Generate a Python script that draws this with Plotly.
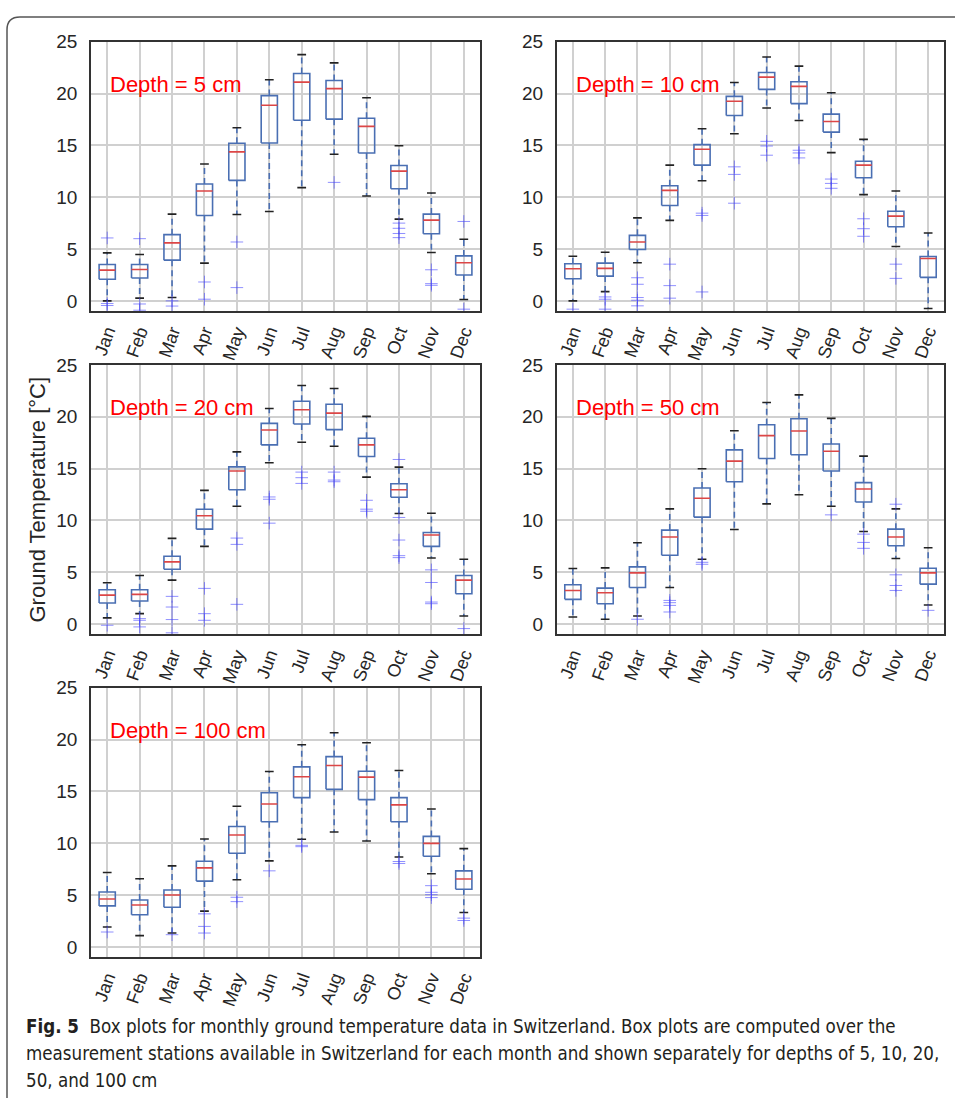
import plotly.graph_objects as go

MONTHS = ["Jan", "Feb", "Mar", "Apr", "May", "Jun", "Jul", "Aug", "Sep", "Oct", "Nov", "Dec"]
Y_TICKS = [0, 5, 10, 15, 20, 25]

# ---- Depth 5 cm ----
D5_LO = [0.0, 0.26, 0.32, 3.64, 8.33, 8.62, 10.92, 14.14, 10.12, 7.89, 4.66, 0.13]
D5_Q1 = [2.08, 2.2, 3.93, 8.24, 11.62, 15.23, 17.43, 17.53, 14.27, 10.82, 6.48, 2.49]
D5_MED = [2.97, 3.03, 5.59, 10.6, 14.37, 18.87, 21.1, 20.47, 16.83, 12.52, 7.79, 3.67]
D5_Q3 = [3.51, 3.51, 6.39, 11.27, 15.2, 19.8, 21.93, 21.26, 17.62, 13.06, 8.37, 4.34]
D5_HI = [4.63, 4.47, 8.37, 13.2, 16.7, 21.33, 23.75, 22.96, 19.6, 14.97, 10.41, 5.94]
D5_OUT = [[6.07, -0.26, -0.45], [6.0, -0.3, -0.9], [0.0, -0.5], [1.82, 0.16], [5.68, 1.28], [], [],
          [11.43], [], [7.5, 7.0, 6.5, 6.1], [3.0, 1.66, 1.5], [7.66, -0.8]]

# ---- Depth 10 cm ----
D10_LO = [0.0, 0.89, 3.67, 7.76, 11.59, 16.12, 18.61, 17.4, 14.3, 10.25, 5.24, -0.73]
D10_Q1 = [2.14, 2.39, 4.95, 9.2, 13.09, 17.88, 20.4, 19.03, 16.28, 11.88, 7.15, 2.27]
D10_MED = [3.1, 3.13, 5.68, 10.66, 14.62, 19.25, 21.58, 20.69, 17.31, 13.09, 8.17, 4.09]
D10_Q3 = [3.58, 3.64, 6.32, 11.11, 15.07, 19.73, 22.03, 21.14, 18.01, 13.47, 8.65, 4.28]
D10_HI = [4.31, 4.69, 8.01, 13.09, 16.6, 21.07, 23.53, 22.64, 20.08, 15.58, 10.6, 6.55]
D10_OUT = [[-0.8], [0.38, 0.16, -0.8], [2.23, 1.6, 0.32, 0.06, -0.48], [3.54, 1.47, 0.26],
           [8.46, 8.24, 0.86], [12.93, 12.2, 9.42], [15.39, 14.94, 14.05], [14.53, 14.27, 13.79],
           [11.75, 11.33, 10.86], [7.92, 6.96, 6.23], [3.54, 2.17], []]

# ---- Depth 20 cm ----
D20_LO = [0.58, 0.99, 4.23, 7.49, 11.36, 15.56, 17.54, 17.16, 14.18, 10.66, 6.37, 0.77]
D20_Q1 = [2.02, 2.21, 5.28, 9.15, 12.96, 17.29, 19.3, 18.76, 16.17, 12.23, 7.49, 2.91]
D20_MED = [2.78, 2.85, 5.99, 10.44, 14.76, 18.73, 20.68, 20.36, 17.29, 12.96, 8.58, 4.23]
D20_Q3 = [3.3, 3.3, 6.53, 11.08, 15.17, 19.37, 21.51, 21.22, 17.93, 13.54, 8.83, 4.67]
D20_HI = [3.97, 4.67, 8.26, 12.9, 16.61, 20.81, 23.02, 22.73, 20.04, 15.14, 10.69, 6.24]
D20_OUT = [[-0.13], [0.51, 0.35, -0.29], [2.66, 1.63, 0.42, -0.86], [3.43, 0.99, 0.35],
           [8.29, 7.68, 1.89], [12.26, 12.04, 9.73], [14.66, 14.12, 13.57], [14.66, 13.89, 13.73],
           [11.94, 11.08, 10.88], [15.88, 10.28, 8.1, 6.59, 6.4], [5.22, 4.0, 2.11, 1.95], [-0.45]]

# ---- Depth 50 cm ----
D50_LO = [0.67, 0.45, 0.77, 3.52, 6.24, 9.12, 11.59, 12.48, 11.36, 8.93, 6.31, 1.82]
D50_Q1 = [2.37, 1.95, 3.52, 6.63, 10.31, 13.73, 15.97, 16.33, 14.76, 11.78, 7.55, 3.84]
D50_MED = [3.23, 3.01, 4.93, 8.39, 12.13, 15.72, 18.18, 18.63, 16.68, 13.03, 8.39, 4.93]
D50_Q3 = [3.78, 3.46, 5.51, 9.06, 13.12, 16.81, 19.24, 19.81, 17.38, 13.64, 9.15, 5.38]
D50_HI = [5.35, 5.41, 7.84, 11.11, 14.98, 18.66, 21.38, 22.12, 19.85, 16.2, 11.11, 7.36]
D50_OUT = [[], [], [0.45], [2.27, 2.05, 1.79, 1.15], [5.95, 5.76], [], [], [], [10.53],
           [8.67, 7.87, 7.3], [11.56, 4.74, 3.71, 3.23], [1.31]]

# ---- Depth 100 cm ----
D100_LO = [1.92, 1.09, 1.34, 3.45, 6.48, 8.3, 10.38, 11.08, 10.22, 8.68, 7.06, 3.32]
D100_Q1 = [3.96, 3.1, 3.83, 6.35, 9.04, 12.07, 14.4, 15.2, 14.21, 12.07, 8.75, 5.56]
D100_MED = [4.63, 4.05, 5.01, 7.63, 10.79, 13.79, 16.41, 17.5, 16.38, 13.7, 9.99, 6.55]
D100_Q3 = [5.3, 4.53, 5.49, 8.27, 11.62, 14.88, 17.37, 18.36, 16.95, 14.4, 10.66, 7.34]
D100_HI = [7.18, 6.58, 7.82, 10.41, 13.57, 16.92, 19.51, 20.66, 19.7, 17.02, 13.31, 9.48]
D100_OUT = [[1.44], [], [1.18], [3.19, 1.98, 1.34], [4.79, 4.37], [7.34], [9.8, 9.67], [], [],
            [8.24, 8.05], [5.91, 5.27, 5.04, 4.76], [2.78, 2.55]]

DEPTH_TEXT = ["Depth = 5 cm", "Depth = 10 cm", "Depth = 20 cm", "Depth = 50 cm", "Depth = 100 cm"]
Y_TITLE = "Ground Temperature [°C]"
CAPTION = [
    "<b>Fig. 5</b>  Box plots for monthly ground temperature data in Switzerland. Box plots are computed over the",
    "measurement stations available in Switzerland for each month and shown separately for depths of 5, 10, 20,",
    "50, and 100 cm",
]

DATA = [
    (D5_LO, D5_Q1, D5_MED, D5_Q3, D5_HI, D5_OUT),
    (D10_LO, D10_Q1, D10_MED, D10_Q3, D10_HI, D10_OUT),
    (D20_LO, D20_Q1, D20_MED, D20_Q3, D20_HI, D20_OUT),
    (D50_LO, D50_Q1, D50_MED, D50_Q3, D50_HI, D50_OUT),
    (D100_LO, D100_Q1, D100_MED, D100_Q3, D100_HI, D100_OUT),
]

# ---------------- layout geometry (pixels) ----------------
W, H = 955, 1098
COLS = [(91, 480), (556.7, 944.3)]
ROWS = [(32, 304), (358.3, 630), (684, 956)]
PANEL_POS = [(0, 0), (1, 0), (0, 1), (1, 1), (0, 2)]

BLUE = "#4a6fb3"
RED = "#dc4646"
CAP = "#222222"
OUT = "rgba(70,70,255,0.6)"
GRID = "#d0d0d0"
FONT = "Liberation Sans, Arial, sans-serif"

BOX_HW = 0.25
CAP_HW = 0.135

fig = go.Figure()
layout = dict(
    width=W, height=H, margin=dict(l=0, r=0, t=0, b=0),
    paper_bgcolor="white", plot_bgcolor="white", showlegend=False,
    font=dict(family=FONT, size=19, color="#262626"),
)
annotations = []
shapes = []

for k, (col, row) in enumerate(PANEL_POS):
    idx = k + 1
    xa = "x" if idx == 1 else f"x{idx}"
    ya = "y" if idx == 1 else f"y{idx}"
    lo, q1, med, q3, hi, outs = DATA[k]
    xs = list(range(1, len(MONTHS) + 1))

    wx, wy = [], []
    bx, by = [], []
    cx, cy = [], []
    mx, my = [], []
    ox, oy = [], []
    for i, m in enumerate(xs):
        wx += [m, m, None, m, m, None]
        wy += [q3[i], hi[i], None, q1[i], lo[i], None]
        bx += [m - BOX_HW, m + BOX_HW, m + BOX_HW, m - BOX_HW, m - BOX_HW, None]
        by += [q1[i], q1[i], q3[i], q3[i], q1[i], None]
        cx += [m - CAP_HW, m + CAP_HW, None, m - CAP_HW, m + CAP_HW, None]
        cy += [hi[i], hi[i], None, lo[i], lo[i], None]
        mx += [m - BOX_HW, m + BOX_HW, None]
        my += [med[i], med[i], None]
        for v in outs[i]:
            ox.append(m)
            oy.append(v)

    fig.add_trace(go.Scatter(x=wx, y=wy, mode="lines", xaxis=xa, yaxis=ya,
                             line=dict(color=BLUE, width=1.6, dash="6px,4px"), hoverinfo="skip"))
    fig.add_trace(go.Scatter(x=bx, y=by, mode="lines", xaxis=xa, yaxis=ya,
                             line=dict(color=BLUE, width=1.6), hoverinfo="skip"))
    fig.add_trace(go.Scatter(x=cx, y=cy, mode="lines", xaxis=xa, yaxis=ya,
                             line=dict(color=CAP, width=1.6), hoverinfo="skip"))
    fig.add_trace(go.Scatter(x=mx, y=my, mode="lines", xaxis=xa, yaxis=ya,
                             line=dict(color=RED, width=1.6), hoverinfo="skip"))
    fig.add_trace(go.Scatter(x=ox, y=oy, mode="markers", xaxis=xa, yaxis=ya,
                             marker=dict(symbol="cross-thin", size=9, line=dict(color=OUT, width=1.0)),
                             hoverinfo="skip"))

    x0, x1 = COLS[col]
    y0, y1 = ROWS[row]
    xkey = "xaxis" if idx == 1 else f"xaxis{idx}"
    ykey = "yaxis" if idx == 1 else f"yaxis{idx}"
    layout[xkey] = dict(
        domain=[x0 / W, x1 / W], anchor=ya, range=[0.5, 12.5],
        tickmode="array", tickvals=xs, ticktext=MONTHS, tickangle=-70,
        showgrid=True, gridcolor=GRID, gridwidth=2, zeroline=False,
        showline=True, linecolor="#333333", linewidth=1.6, mirror=True,
        ticks="", ticklabelstandoff=1, tickfont=dict(size=18, color="#262626"),
    )
    layout[ykey] = dict(
        domain=[1 - y1 / H, 1 - y0 / H], anchor=xa, range=[-1, 25],
        tickmode="array", tickvals=Y_TICKS,
        showgrid=True, gridcolor=GRID, gridwidth=2, zeroline=False,
        showline=True, linecolor="#333333", linewidth=1.6, mirror=True,
        ticks="", ticklabelstandoff=8, tickfont=dict(size=19, color="#262626"),
    )
    annotations.append(dict(
        xref=f"{xa} domain", yref=f"{ya} domain", x=17 / (x1 - x0), y=0.842,
        xanchor="left", yanchor="middle", showarrow=False, text=DEPTH_TEXT[k],
        font=dict(family=FONT, size=22, color="#ff0000"),
    ))

# y-axis title (shared)
annotations.append(dict(
    xref="paper", yref="paper", x=38 / W, y=1 - 494 / H, textangle=-90,
    xanchor="center", yanchor="middle", showarrow=False, text=Y_TITLE,
    font=dict(family=FONT, size=22, color="#262626"),
))

# caption
CAP_FONT = "Liberation Sans Narrow, DejaVu Sans Condensed, Roboto, sans-serif"
for j, (line, yc) in enumerate(zip(CAPTION, [1026, 1053, 1080])):
    annotations.append(dict(
        xref="paper", yref="paper", x=24 / W, y=1 - yc / H, xanchor="left", yanchor="middle",
        showarrow=False, text=line, font=dict(family=CAP_FONT, size=18.6, color="#231f20"),
    ))

# rounded frame around figure
def px(x, y):
    return f"{x / W:.5f},{1 - y / H:.5f}"

path = (f"M {px(7, 1100)} L {px(7, 20)} Q {px(7, 7)} {px(20, 7)} L {px(960, 7)}")
shapes.append(dict(type="path", xref="paper", yref="paper", path=path,
                   line=dict(color="#555555", width=1.5)))

layout["annotations"] = annotations
layout["shapes"] = shapes
fig.update_layout(**layout)
fig.write_html("out.html")
